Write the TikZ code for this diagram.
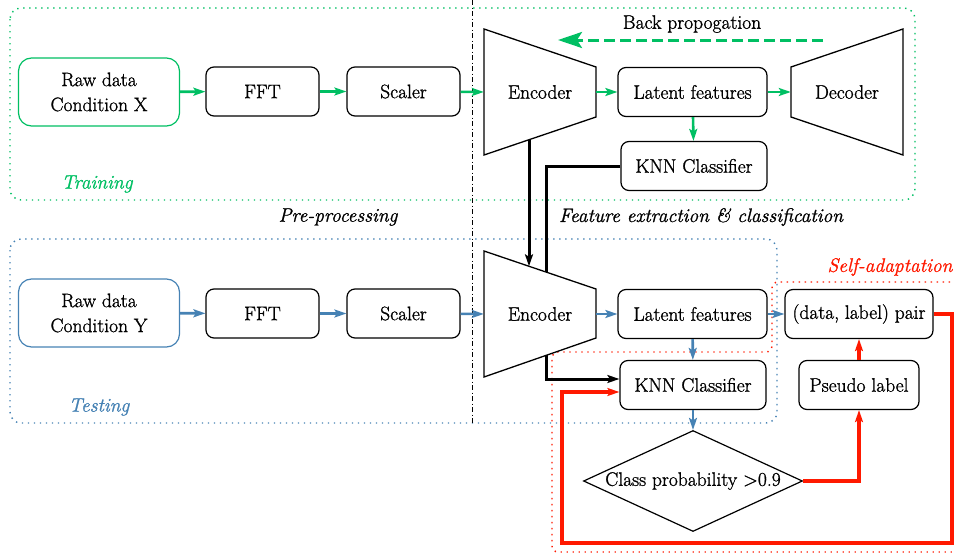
\documentclass[tikz,border=0pt]{standalone}
\usepackage{fontspec}
\setmainfont{Latin Modern Roman}[RawFeature={embolden=1.2}]
\usetikzlibrary{shapes.geometric,arrows.meta}
\definecolor{tgreen}{RGB}{0,191,99}
\definecolor{tblue}{RGB}{70,130,180}
\definecolor{tred}{RGB}{255,25,0}
\begin{document}
\begin{tikzpicture}[x=1pt,y=-1pt,
  font=\fontsize{19.5}{25}\selectfont,
  box/.style={draw, rounded corners=8pt, line width=1.2pt, minimum width=113pt, minimum height=49pt, inner sep=0pt, align=center},
  rawbox/.style={box, minimum width=161pt, minimum height=68pt, rounded corners=13pt},
  trap/.style={draw, line width=1.3pt, line join=miter},
  tip/.style={-{Stealth[length=12pt,width=8pt,inset=2.5pt]}},
  garrow/.style={tip, draw=tgreen, line width=2.6pt},
  barrow/.style={tip, draw=tblue, line width=2.6pt},
  rarrow/.style={tip, draw=tred, line width=3.2pt},
  karrow/.style={tip, draw=black, line width=3pt},
  dotbox/.style={line width=1.4pt, dash pattern=on 1.4pt off 4.6pt, rounded corners=11pt},
  lbl/.style={font=\fontsize{19.5}{25}\selectfont\itshape}
]
\useasboundingbox (0,0) rectangle (954,554);

% regions
\draw[dotbox, draw=tgreen] (10,8) rectangle (915,200);
\draw[dotbox, draw=tblue] (10,239) rectangle (777,423);
\draw[dotbox, draw=tred, rounded corners=6pt] (956,282) -- (772,282) -- (772,352) -- (552,352) -- (552,552) -- (956,552);
\draw[line width=1pt, dash pattern=on 5pt off 2.5pt on 1pt off 2.5pt] (472,0) -- (472,425);

% labels
\node[lbl, text=tgreen] (ltrain) at (97,184) {Training};
\node[lbl, text=tblue] (ltest) at (99,407) {Testing};
\node[lbl] (lpre) at (338,217) {Pre-processing};
\node[lbl] (lfeat) at (701,217) {Feature extraction \& classification};
\node[lbl, text=tred] (lself) at (890,267) {Self-adaptation};

% top row
\node[rawbox, draw=tgreen] (rawx) at (99,92) {Raw data\\Condition X};
\node[box] (fft1) at (262.5,91.5) {FFT};
\node[box] (sc1) at (403.5,91.5) {Scaler};
\node[inner sep=0pt, minimum width=112pt, minimum height=126pt] (enc1) at (540,92) {Encoder};
\draw[trap] (484,29) -- (596,67) -- (596,117) -- (484,155) -- cycle;
\node[box, minimum width=149pt] (lat1) at (692.5,92) {Latent features};
\node[inner sep=0pt, minimum width=112pt, minimum height=126pt] (dec1) at (847,92) {Decoder};
\draw[trap] (791,67) -- (903,29) -- (903,155) -- (791,117) -- cycle;
\node[box, minimum width=146pt] (knn1) at (694,166) {KNN Classifier};
\node (bp) at (692,24) {Back propogation};
\coordinate (bpS) at (823,40);
\coordinate (bpE) at (558,40);
\draw[draw=tgreen, line width=3pt, dash pattern=on 11pt off 5pt, -{Stealth[length=24pt,width=16pt,inset=5pt]}] (bpS) -- (bpE);

\draw[garrow] (rawx) -- (fft1);
\draw[garrow] (fft1) -- (sc1);
\draw[garrow] (sc1) -- (enc1.west);
\draw[garrow] (enc1.east) -- (lat1);
\draw[garrow] (lat1) -- (dec1.west);
\draw[garrow] (lat1) -- (knn1);

% bottom row
\node[rawbox, draw=tblue] (rawy) at (99,313) {Raw data\\Condition Y};
\node[box] (fft2) at (262.5,313.5) {FFT};
\node[box] (sc2) at (403.5,313.5) {Scaler};
\node[inner sep=0pt, minimum width=112pt, minimum height=126pt] (enc2) at (540,314) {Encoder};
\draw[trap] (484,251) -- (596,289) -- (596,338) -- (484,377) -- cycle;
\node[box, minimum width=149pt] (lat2) at (692.5,314) {Latent features};
\node[box, minimum width=146pt] (knn2) at (693,385) {KNN Classifier};
\node[box, minimum width=148pt] (pair) at (859,314) {(data, label) pair};
\node[box, minimum width=120pt] (pseudo) at (859,385) {Pseudo label};
\node[diamond, draw, line width=1.2pt, inner sep=0pt, aspect=2.2, minimum width=219pt, minimum height=101pt] (dia) at (693,481) {Class probability >0.9};

\draw[barrow] (rawy) -- (fft2);
\draw[barrow] (fft2) -- (sc2);
\draw[barrow] (sc2) -- (enc2.west);
\draw[barrow] (enc2.east) -- (lat2);
\draw[barrow] (lat2) -- (pair);
\draw[barrow] (lat2) -- (knn2);
\draw[barrow] (knn2) -- (dia.north);

% black connectors
\coordinate (e1b) at (529,139.7);
\coordinate (e2t) at (529,266.3);
\coordinate (e2tb) at (546,272);
\coordinate (e2bb) at (546,355.4);
\draw[karrow] (e1b) -- (e2t);
\draw[line width=3pt] (knn1.west) -| (e2tb);
\draw[karrow] (e2bb) |- ([yshift=6pt]knn2.west);

% red connectors
\coordinate (r1) at (952,543);
\coordinate (r2) at (562,543);
\draw[rarrow] (pair.east) -| (r1) -- (r2) |- ([yshift=-7pt]knn2.west);
\draw[rarrow] (dia.east) -| (pseudo.south);
\draw[rarrow] (pseudo) -- (pair);
\end{tikzpicture}
\end{document}
